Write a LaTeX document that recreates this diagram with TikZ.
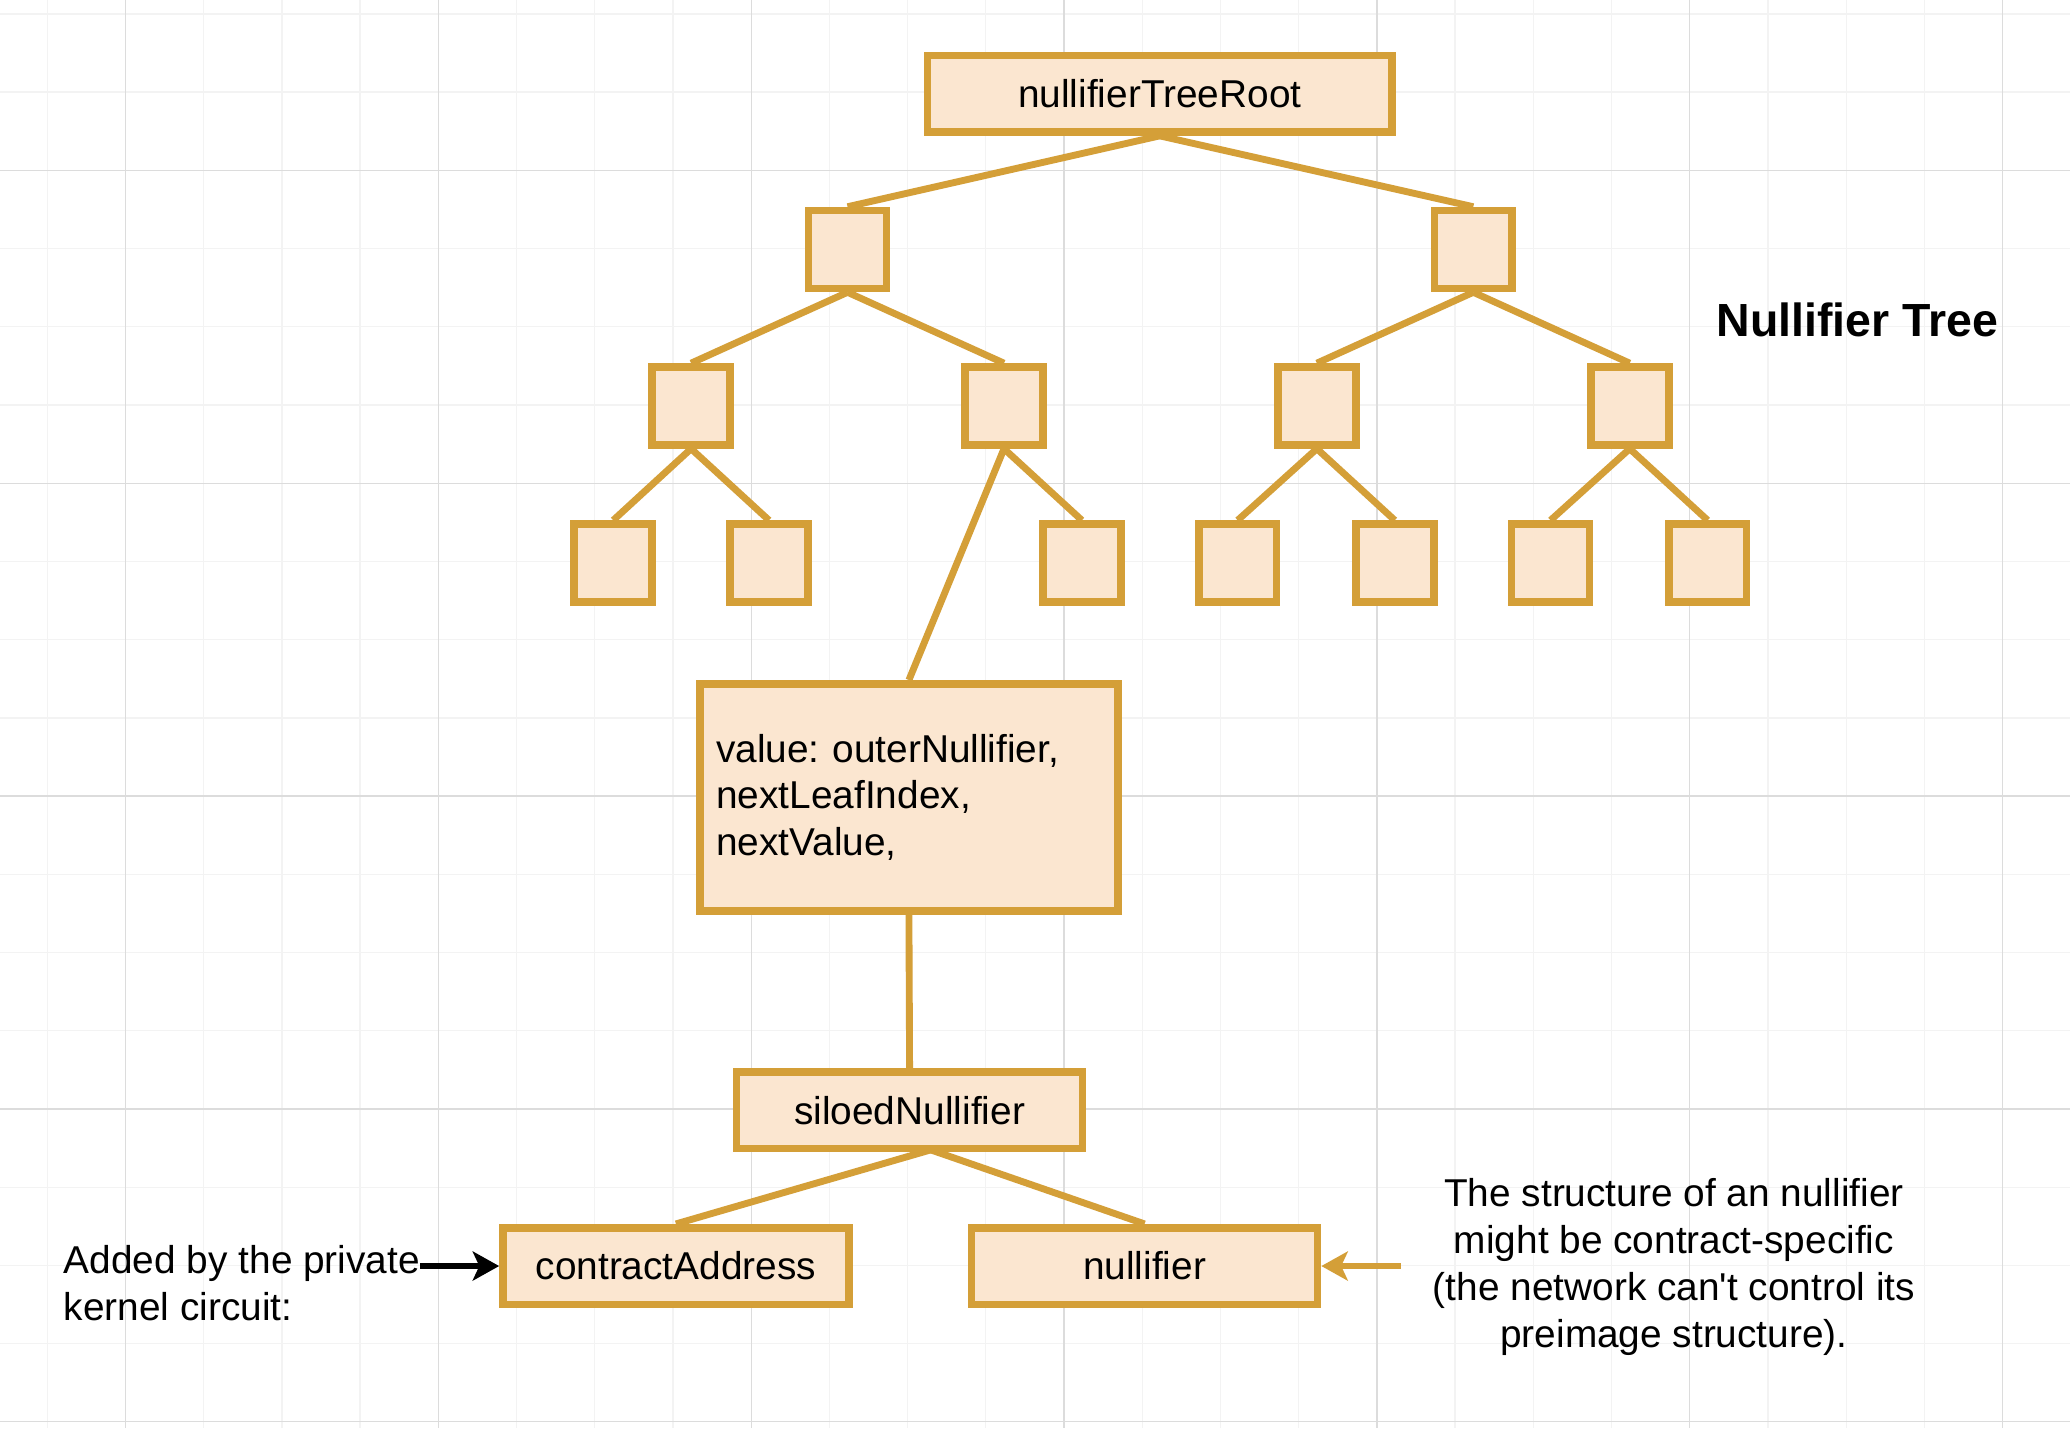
\documentclass[tikz,border=0pt]{standalone}
\usepackage{fontspec}
\setmainfont{Liberation Sans}[Ligatures=TeXOff]
\usetikzlibrary{arrows.meta,calc}
\pgfdeclarelayer{edgelayer}
\pgfdeclarelayer{nodelayer}
\pgfsetlayers{edgelayer,nodelayer,main}
\definecolor{treegold}{HTML}{D49F38}
\definecolor{treefill}{HTML}{FBE6D0}
\definecolor{gridmajor}{HTML}{DCDCDC}
\definecolor{gridminor}{HTML}{F3F3F3}
\frenchspacing
\tikzset{font=\fontsize{14.7pt}{17.75pt}\selectfont}
\tikzstyle{none}=[inner sep=0pt]
\tikzstyle{leaf}=[rectangle,draw=treegold,fill=treefill,line width=2.9pt,minimum width=29.5pt,minimum height=29.5pt,inner sep=0pt]
\tikzstyle{label box}=[leaf,minimum width=131pt,minimum height=29pt]
\tikzstyle{root box}=[label box,minimum width=176pt]
\tikzstyle{value box}=[leaf,minimum width=158.5pt,minimum height=86pt,text width=146pt,inner xsep=6.25pt,align=left]
\tikzstyle{note}=[inner sep=0pt,align=left]
\tikzstyle{title}=[inner sep=0pt,font=\fontsize{17.6pt}{21pt}\selectfont\bfseries]
\tikzstyle{branch}=[draw=treegold,line width=2.6pt]
\tikzstyle{pointer}=[line width=2.5pt,-{Stealth[length=10pt,width=11pt,inset=2.5pt]}]

\begin{document}
\begin{tikzpicture}[x=0.5pt,y=-0.5pt]
	\useasboundingbox (0,0) rectangle (1568,1082);
	\begin{pgfonlayer}{nodelayer}
		\node [style=root box] (0) at (878.5, 71) {nullifierTreeRoot};
		\node [style=leaf] (1) at (642, 189) {};
		\node [style=leaf] (2) at (1116, 189) {};
		\node [style=leaf] (3) at (523.5, 307.5) {};
		\node [style=leaf] (4) at (760.5, 307.5) {};
		\node [style=leaf] (5) at (997.5, 307.5) {};
		\node [style=leaf] (6) at (1234.5, 307.5) {};
		\node [style=leaf] (7) at (464.5, 426.5) {};
		\node [style=leaf] (8) at (582.5, 426.5) {};
		\node [style=leaf] (9) at (819.5, 426.5) {};
		\node [style=leaf] (10) at (937.5, 426.5) {};
		\node [style=leaf] (11) at (1056.5, 426.5) {};
		\node [style=leaf] (12) at (1174.5, 426.5) {};
		\node [style=leaf] (13) at (1293.5, 426.5) {};
		\node [style=value box] (14) at (688.5, 604) {value: outerNullifier,\\nextLeafIndex,\\nextValue,};
		\node [style=label box] (15) at (689, 841) {siloedNullifier};
		\node [style=label box] (16) at (512, 959) {contractAddress};
		\node [style=label box] (17) at (867, 959) {nullifier};
		\node [style=note, anchor=west] (18) at (48, 972) {Added by the private\\kernel circuit:};
		\node [style=note, align=center, inner xsep=12pt] (19) at (1268, 959.5) {The structure of an nullifier\\might be contract-specific\\(the network can't control its\\preimage structure).};
		\node [style=title] (20) at (1407, 242) {Nullifier Tree};
		\node [style=none] (21) at (705, 871) {};
	\end{pgfonlayer}
	\begin{pgfonlayer}{edgelayer}
		\fill [white] (0,0) rectangle (1568,1082);
		\foreach \n in {0,...,25}
			\draw [gridminor, line width=0.5pt] ({35.75+59.25*\n}, 0) -- ({35.75+59.25*\n}, 1082);
		\foreach \n in {0,...,18}
			\draw [gridminor, line width=0.5pt] (0, {10.5+59.25*\n}) -- (1568, {10.5+59.25*\n});
		\foreach \n in {0,...,6}
			\draw [gridmajor, line width=0.5pt] ({95+237*\n}, 0) -- ({95+237*\n}, 1082);
		\foreach \n in {0,...,4}
			\draw [gridmajor, line width=0.5pt] (0, {129+237*\n}) -- (1568, {129+237*\n});
		\draw [style=branch] (0.south) to (1.north);
		\draw [style=branch] (0.south) to (2.north);
		\draw [style=branch] (1.south) to (3.north);
		\draw [style=branch] (1.south) to (4.north);
		\draw [style=branch] (2.south) to (5.north);
		\draw [style=branch] (2.south) to (6.north);
		\draw [style=branch] (3.south) to (7.north);
		\draw [style=branch] (3.south) to (8.north);
		\draw [style=branch] (4.south) to (14.north);
		\draw [style=branch] (4.south) to (9.north);
		\draw [style=branch] (5.south) to (10.north);
		\draw [style=branch] (5.south) to (11.north);
		\draw [style=branch] (6.south) to (12.north);
		\draw [style=branch] (6.south) to (13.north);
		\draw [style=branch] (14.south) to (15.north);
		\draw [style=branch] (21.center) to (16.north);
		\draw [style=branch] (21.center) to (17.north);
	\end{pgfonlayer}
	\draw [style=pointer, black] (18.east |- 16.west) to (16.west);
	\draw [style=pointer, treegold] (19.west |- 17.east) to (17.east);
\end{tikzpicture}
\end{document}
